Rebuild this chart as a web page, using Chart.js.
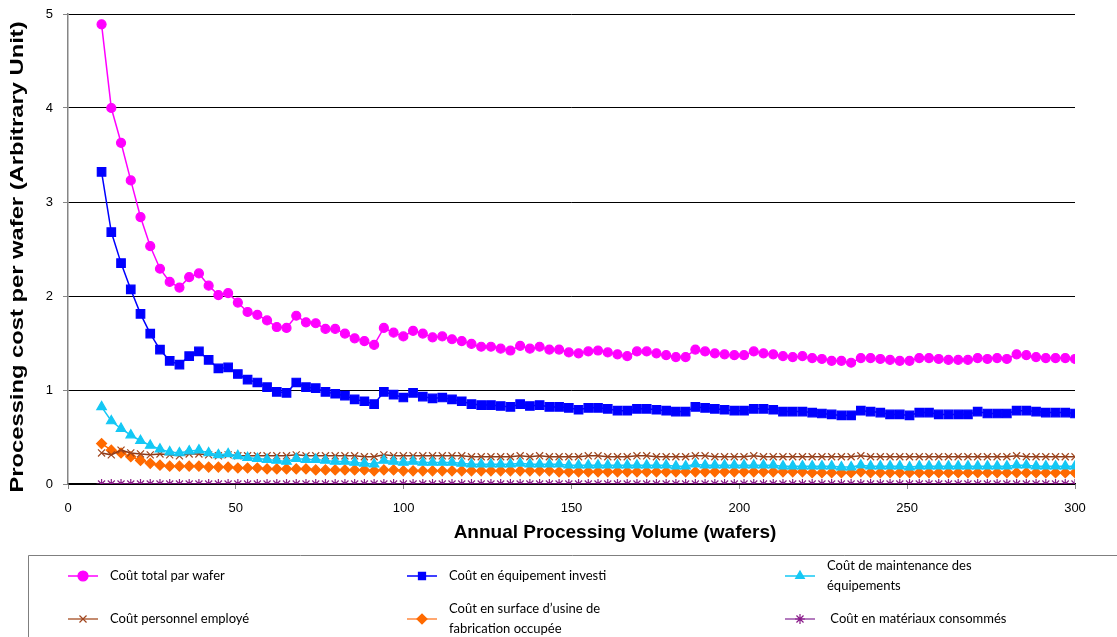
<!DOCTYPE html>
<html>
<head>
<meta charset="utf-8">
<script src="https://cdn.jsdelivr.net/npm/chart.js@4"></script>
<style>
  body { margin: 0; background: #fff; }
  canvas { display: block; }
</style>
</head>
<body>
<canvas id="myChart" width="1117" height="637"></canvas>
<script>
// annual processing volume (wafers)
const volumes = [
  10, 12.9, 15.8, 18.7, 21.6, 24.5, 27.4, 30.3, 33.2, 36.1,
  39, 41.9, 44.8, 47.7, 50.6, 53.5, 56.4, 59.3, 62.2, 65.1,
  68, 70.9, 73.8, 76.7, 79.6, 82.5, 85.4, 88.3, 91.2, 94.1,
  97, 99.9, 102.8, 105.7, 108.6, 111.5, 114.4, 117.3, 120.2, 123.1,
  126, 128.9, 131.8, 134.7, 137.6, 140.5, 143.4, 146.3, 149.2, 152.1,
  155, 157.9, 160.8, 163.7, 166.6, 169.5, 172.4, 175.3, 178.2, 181.1,
  184, 186.9, 189.8, 192.7, 195.6, 198.5, 201.4, 204.3, 207.2, 210.1,
  213, 215.9, 218.8, 221.7, 224.6, 227.5, 230.4, 233.3, 236.2, 239.1,
  242, 244.9, 247.8, 250.7, 253.6, 256.5, 259.4, 262.3, 265.2, 268.1,
  271, 273.9, 276.8, 279.7, 282.6, 285.5, 288.4, 291.3, 294.2, 297.1,
  300,
];

const coutTotal = [
  4.89, 4.00, 3.63, 3.23, 2.84, 2.53, 2.29, 2.15, 2.09, 2.20,
  2.24, 2.11, 2.01, 2.03, 1.93, 1.83, 1.80, 1.74, 1.67, 1.66,
  1.79, 1.72, 1.71, 1.65, 1.65, 1.60, 1.55, 1.52, 1.48, 1.66,
  1.61, 1.57, 1.63, 1.60, 1.56, 1.57, 1.54, 1.52, 1.49, 1.46,
  1.46, 1.44, 1.42, 1.47, 1.44, 1.46, 1.43, 1.43, 1.40, 1.39,
  1.41, 1.42, 1.40, 1.38, 1.36, 1.41, 1.41, 1.39, 1.37, 1.35,
  1.35, 1.43, 1.41, 1.39, 1.38, 1.37, 1.37, 1.41, 1.39, 1.38,
  1.36, 1.35, 1.36, 1.34, 1.33, 1.31, 1.31, 1.29, 1.34, 1.34,
  1.33, 1.32, 1.31, 1.31, 1.34, 1.34, 1.33, 1.32, 1.32, 1.32,
  1.34, 1.33, 1.34, 1.33, 1.38, 1.37, 1.35, 1.34, 1.34, 1.34,
  1.33,
];

const coutEquipement = [
  3.32, 2.68, 2.35, 2.07, 1.81, 1.60, 1.43, 1.31, 1.27, 1.36,
  1.41, 1.32, 1.23, 1.24, 1.17, 1.11, 1.08, 1.03, 0.98, 0.97,
  1.08, 1.03, 1.02, 0.98, 0.96, 0.94, 0.90, 0.88, 0.85, 0.98,
  0.95, 0.92, 0.97, 0.93, 0.91, 0.92, 0.90, 0.88, 0.85, 0.84,
  0.84, 0.83, 0.82, 0.85, 0.83, 0.84, 0.82, 0.82, 0.81, 0.79,
  0.81, 0.81, 0.80, 0.78, 0.78, 0.80, 0.80, 0.79, 0.78, 0.77,
  0.77, 0.82, 0.81, 0.80, 0.79, 0.78, 0.78, 0.80, 0.80, 0.79,
  0.77, 0.77, 0.77, 0.76, 0.75, 0.74, 0.73, 0.73, 0.78, 0.77,
  0.76, 0.74, 0.74, 0.73, 0.76, 0.76, 0.74, 0.74, 0.74, 0.74,
  0.77, 0.75, 0.75, 0.75, 0.78, 0.78, 0.77, 0.76, 0.76, 0.76,
  0.75,
];

const coutMaintenance = [
  0.82, 0.67, 0.59, 0.52, 0.46, 0.41, 0.37, 0.34, 0.33, 0.35,
  0.36, 0.33, 0.31, 0.32, 0.30, 0.28, 0.27, 0.26, 0.25, 0.24,
  0.27, 0.26, 0.26, 0.25, 0.24, 0.24, 0.23, 0.22, 0.21, 0.25,
  0.24, 0.23, 0.24, 0.23, 0.23, 0.23, 0.23, 0.22, 0.21, 0.21,
  0.21, 0.21, 0.21, 0.22, 0.21, 0.21, 0.21, 0.21, 0.20, 0.20,
  0.20, 0.20, 0.20, 0.20, 0.20, 0.20, 0.20, 0.20, 0.20, 0.19,
  0.19, 0.21, 0.20, 0.20, 0.20, 0.20, 0.20, 0.20, 0.20, 0.20,
  0.19, 0.19, 0.19, 0.19, 0.19, 0.19, 0.18, 0.18, 0.20, 0.19,
  0.19, 0.19, 0.19, 0.18, 0.19, 0.19, 0.19, 0.19, 0.19, 0.19,
  0.19, 0.19, 0.19, 0.19, 0.20, 0.20, 0.19, 0.19, 0.19, 0.19,
  0.19,
];

const coutPersonnel = [
  0.33, 0.31, 0.36, 0.33, 0.32, 0.31, 0.32, 0.31, 0.30, 0.32,
  0.32, 0.31, 0.30, 0.31, 0.30, 0.30, 0.30, 0.30, 0.30, 0.30,
  0.31, 0.30, 0.30, 0.30, 0.30, 0.30, 0.30, 0.29, 0.29, 0.31,
  0.30, 0.30, 0.30, 0.30, 0.30, 0.30, 0.30, 0.30, 0.29, 0.29,
  0.29, 0.29, 0.29, 0.30, 0.29, 0.30, 0.29, 0.29, 0.29, 0.29,
  0.30, 0.30, 0.29, 0.29, 0.29, 0.30, 0.30, 0.29, 0.29, 0.29,
  0.29, 0.30, 0.30, 0.29, 0.29, 0.29, 0.29, 0.30, 0.29, 0.29,
  0.29, 0.29, 0.29, 0.29, 0.29, 0.29, 0.29, 0.29, 0.30, 0.29,
  0.29, 0.29, 0.29, 0.29, 0.29, 0.29, 0.29, 0.29, 0.29, 0.29,
  0.29, 0.29, 0.29, 0.29, 0.30, 0.29, 0.29, 0.29, 0.29, 0.29,
  0.29,
];

const coutSurface = [
  0.43, 0.36, 0.33, 0.29, 0.25, 0.22, 0.20, 0.19, 0.19, 0.19,
  0.19, 0.18, 0.18, 0.18, 0.17, 0.17, 0.17, 0.16, 0.16, 0.16,
  0.16, 0.16, 0.15, 0.15, 0.15, 0.15, 0.15, 0.15, 0.14, 0.15,
  0.15, 0.14, 0.14, 0.14, 0.14, 0.14, 0.14, 0.14, 0.14, 0.14,
  0.14, 0.14, 0.14, 0.14, 0.14, 0.14, 0.14, 0.13, 0.13, 0.13,
  0.13, 0.13, 0.13, 0.13, 0.13, 0.13, 0.13, 0.13, 0.13, 0.13,
  0.13, 0.13, 0.13, 0.13, 0.13, 0.13, 0.13, 0.13, 0.13, 0.13,
  0.13, 0.13, 0.13, 0.12, 0.12, 0.12, 0.12, 0.12, 0.13, 0.12,
  0.12, 0.12, 0.12, 0.12, 0.12, 0.12, 0.12, 0.12, 0.12, 0.12,
  0.12, 0.12, 0.12, 0.12, 0.12, 0.12, 0.12, 0.12, 0.12, 0.12,
  0.12,
];

const coutMateriaux = [
  0, 0, 0, 0, 0, 0, 0, 0, 0, 0, 0, 0, 0, 0, 0, 0, 0, 0, 0, 0,
  0, 0, 0, 0, 0, 0, 0, 0, 0, 0, 0, 0, 0, 0, 0, 0, 0, 0, 0, 0,
  0, 0, 0, 0, 0, 0, 0, 0, 0, 0, 0, 0, 0, 0, 0, 0, 0, 0, 0, 0,
  0, 0, 0, 0, 0, 0, 0, 0, 0, 0, 0, 0, 0, 0, 0, 0, 0, 0, 0, 0,
  0, 0, 0, 0, 0, 0, 0, 0, 0, 0, 0, 0, 0, 0, 0, 0, 0, 0, 0, 0,
  0,
];

// legend labels, one entry per line of text
const seriesNames = [
  ["Coût total par wafer"],
  ["Coût en équipement investi"],
  ["Coût de maintenance des", "équipements"],
  ["Coût personnel employé"],
  ["Coût en surface d’usine de", "fabrication occupée"],
  [" Coût en matériaux consommés"],
];

const yTitle = "Processing cost per wafer (Arbitrary Unit)";
const xTitle = "Annual Processing Volume (wafers)";

function pts(arr) {
  return volumes.map((x, i) => ({ x: x, y: arr[i] }));
}

function serie(idx, arr, color, style, radius, lineColor, legendColor) {
  return {
    label: seriesNames[idx].join(" "),
    data: pts(arr),
    borderColor: lineColor || color,
    borderWidth: 1.5,
    pointStyle: style,
    pointRadius: radius,
    pointBackgroundColor: color,
    pointBorderColor: color,
    pointBorderWidth: 1.2,
    legendLine: legendColor || color,
    tension: 0,
  };
}

// axis titles drawn by hand: the y one is stretched along its length
// and the x one sits right of the plot centre, like the original picture
const axisTitles = {
  id: "axisTitles",
  afterDraw(chart) {
    const ctx = chart.ctx;
    const area = chart.chartArea;
    ctx.save();
    ctx.fillStyle = "#000";
    ctx.textAlign = "center";
    ctx.textBaseline = "middle";
    ctx.font = "bold 19px 'Liberation Sans', Arial, sans-serif";
    ctx.fillText(xTitle, 615, 533);
    ctx.translate(18, (area.top + area.bottom) / 2 + 8);
    ctx.rotate(-Math.PI / 2);
    ctx.scale(1.25, 1);
    ctx.fillText(yTitle, 0, 0);
    ctx.restore();
  },
};

const legendBox = {
  id: "legendBox",
  afterDraw(chart) {
    const ctx = chart.ctx;
    ctx.save();
    ctx.strokeStyle = "#7f7f7f";
    ctx.lineWidth = 1;
    ctx.beginPath();
    ctx.moveTo(28.5, 637);
    ctx.lineTo(28.5, 555.5);
    ctx.lineTo(1117, 555.5);
    ctx.stroke();

    const slots = [[68, 576], [407, 576], [785, 576], [68, 619], [407, 619], [785, 619]];
    ctx.font = "13px Lato, 'Liberation Sans', sans-serif";
    ctx.textBaseline = "middle";
    chart.data.datasets.forEach((ds, i) => {
      const lx = slots[i][0], ly = slots[i][1];
      ctx.strokeStyle = ds.legendLine;
      ctx.lineWidth = 1.5;
      ctx.beginPath();
      ctx.moveTo(lx, ly);
      ctx.lineTo(lx + 30, ly);
      ctx.stroke();
      ctx.fillStyle = ds.pointBackgroundColor;
      ctx.strokeStyle = ds.pointBorderColor;
      ctx.lineWidth = 1.2;
      Chart.helpers.drawPoint(ctx, { pointStyle: ds.pointStyle, radius: 5, borderWidth: 1.2, rotation: 0 }, lx + 15, ly);
      ctx.fillStyle = "#000";
      const lines = seriesNames[i];
      lines.forEach((t, k) => {
        const ty = lines.length === 1 ? ly : ly - 10 + k * 20;
        ctx.fillText(t, lx + 42, ty);
      });
    });
    ctx.restore();
  },
};

chart = new Chart(document.getElementById("myChart").getContext("2d"), {
  type: "line",
  data: {
    datasets: [
      serie(0, coutTotal, "#FF00FF", "circle", 4.5),
      serie(1, coutEquipement, "#0000FF", "rect", 6),
      serie(2, coutMaintenance, "#14C8F5", "triangle", 5.5),
      serie(3, coutPersonnel, "#A0461E", "crossRot", 5, "#8B3A1A", "#B0653F"),
      serie(4, coutSurface, "#FF6A00", "rectRot", 5, null, "#FF8A40"),
      serie(5, coutMateriaux, "#8A1A8A", "star", 5, "#660066", "#9B4FA8"),
    ],
  },
  options: {
    responsive: false,
    animation: false,
    layout: {
      padding: { top: 14, right: 42, bottom: 90, left: 0 },
    },
    plugins: {
      legend: { display: false },
      tooltip: { enabled: false },
    },
    scales: {
      x: {
        type: "linear",
        min: 0,
        max: 300,
        afterFit: (s) => { s.height = 63; },
        ticks: {
          stepSize: 50,
          color: "#000",
          padding: 12,
          font: { family: "'Liberation Sans', Arial, sans-serif", size: 13 },
        },
        grid: {
          drawOnChartArea: false,
          drawTicks: true,
          tickLength: 5,
          tickColor: "#868686",
        },
        border: { color: "#000", width: 1.5 },
        title: { display: false },
      },
      y: {
        min: 0,
        max: 5,
        afterFit: (s) => { s.width = 68; s.paddingTop = 0; s.paddingBottom = 0; },
        ticks: {
          stepSize: 1,
          color: "#000",
          padding: 10,
          font: { family: "'Liberation Sans', Arial, sans-serif", size: 13 },
        },
        grid: {
          color: "#000",
          lineWidth: 1,
          drawTicks: true,
          tickLength: 5,
          tickColor: "#868686",
        },
        border: { color: "#868686", width: 1.5 },
        title: { display: false },
      },
    },
  },
  plugins: [legendBox, axisTitles],
});
</script>
</body>
</html>
